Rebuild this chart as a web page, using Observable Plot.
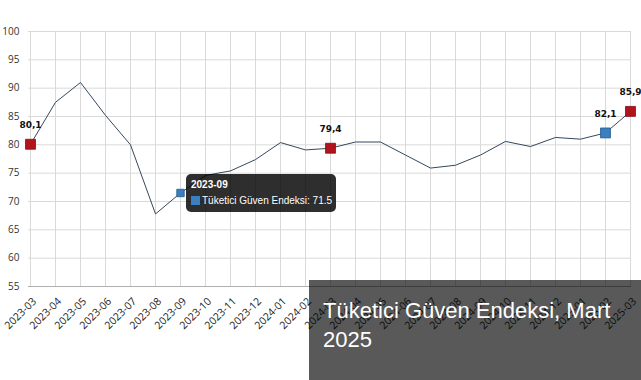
<!DOCTYPE html>
<html>
<head>
<meta charset="utf-8">
<script src="https://cdn.jsdelivr.net/npm/d3@7"></script>
<script src="https://cdn.jsdelivr.net/npm/@observablehq/plot@0.6"></script>
<style>
  html, body { margin: 0; padding: 0; background: #fff; }
  #wrap { position: relative; width: 641px; height: 380px; overflow: hidden; }
  #wrap svg { position: absolute; left: 0; top: 0; }
  .tip { position: absolute; background: rgba(0,0,0,0.82); border-radius: 5px; color: #fff;
         font-family: "Liberation Sans", Arial, sans-serif; font-size: 10px; padding: 5px 4px 6px 5px; white-space: nowrap; }
  .tip .h { font-weight: bold; margin-bottom: 5px; }
  .tip .sw { display: inline-block; width: 9px; height: 9px; margin-right: 2px; vertical-align: -1px; }
  .title { position: absolute; left: 309px; top: 280px; width: 332px; height: 100px; box-sizing: border-box;
           background: rgba(0,0,0,0.65); color: #fff; font-family: "Liberation Sans", Arial, sans-serif;
           font-size: 22px; line-height: 29px; padding: 16px 10px 0 14px; }
</style>
</head>
<body>
<div id="wrap"></div>
<script>
const months = ["2023-03","2023-04","2023-05","2023-06","2023-07","2023-08","2023-09","2023-10","2023-11","2023-12",
  "2024-01","2024-02","2024-03","2024-04","2024-05","2024-06","2024-07","2024-08","2024-09","2024-10","2024-11","2024-12",
  "2025-01","2025-02","2025-03"];
const values = [80.1, 87.5, 91.0, 85.2, 80.0, 67.8, 71.5, 74.6, 75.4, 77.4,
  80.4, 79.1, 79.4, 80.5, 80.5, 78.2, 75.9, 76.4, 78.2, 80.6, 79.7, 81.3,
  81.0, 82.1, 85.9];
const yTicks = [55, 60, 65, 70, 75, 80, 85, 90, 95, 100];
const redMonths = ["2023-03", "2024-03", "2025-03"];
const blueMonths = ["2025-02"];
const labelMonths = ["2023-03", "2024-03", "2025-02", "2025-03"];
const hoverMonth = "2023-09";
const seriesName = "Tüketici Güven Endeksi";
const titleText = "Tüketici Güven Endeksi, Mart 2025";

const data = months.map((m, i) => ({month: m, value: values[i]}));
const pick = list => data.filter(d => list.includes(d.month));
const comma = v => v.toFixed(1).replace(".", ",");

const RED = "#b3141c", BLUE = "#3a7fc0";

const chart = Plot.plot({
  width: 641,
  height: 380,
  marginLeft: 28,
  marginRight: 10,
  marginTop: 31,
  marginBottom: 94,
  style: {fontFamily: "'Open Sans', sans-serif", fontSize: "10px", color: "#333", background: "#fff"},
  x: {type: "point", domain: months, padding: 0},
  y: {domain: [55, 100]},
  marks: [
    Plot.gridX(months, {stroke: "#d9d9d9", strokeOpacity: 1}),
    Plot.gridY(yTicks, {stroke: "#d9d9d9", strokeOpacity: 1}),
    Plot.ruleY([55], {stroke: "#b0b0b0"}),
    Plot.axisY(yTicks, {tickSize: 0, tickPadding: 9, label: null, fill: "#333"}),
    Plot.axisX(months, {tickSize: 0, tickPadding: 4, tickRotate: -45, dx: 4, dy: 9, label: null, fill: "#222", fontSize: 10.5}),
    Plot.line(data, {x: "month", y: "value", stroke: "#34495e", strokeWidth: 1}),
    Plot.dot(pick(redMonths), {x: "month", y: "value", symbol: "square", r: 5.6, fill: RED, stroke: "#7d0d12", strokeWidth: 0.8}),
    Plot.dot(pick(blueMonths), {x: "month", y: "value", symbol: "square", r: 5.6, fill: BLUE, stroke: "#24598c", strokeWidth: 0.8}),
    Plot.dot(pick([hoverMonth]), {x: "month", y: "value", symbol: "square", r: 4.2, fill: BLUE, stroke: "#24598c", strokeWidth: 0.8}),
    Plot.text(pick(labelMonths), {x: "month", y: "value", text: d => comma(d.value), dy: -19,
      fontWeight: "bold", fontSize: 9, fill: "#111", fontFamily: "'DejaVu Sans', sans-serif"})
  ]
});

const wrap = document.getElementById("wrap");
wrap.appendChild(chart);

// tooltip anchored through the chart's scales
const hv = data.find(d => d.month === hoverMonth);
const px = chart.scale("x").apply(hv.month);
const py = chart.scale("y").apply(hv.value);
const tip = document.createElement("div");
tip.className = "tip";
tip.style.left = (px + 6) + "px";
tip.style.top = (py - 19) + "px";
tip.innerHTML = `<div class="h">${hv.month}</div><div><span class="sw" style="background:${BLUE}"></span>${seriesName}: ${hv.value}</div>`;
wrap.appendChild(tip);

const title = document.createElement("div");
title.className = "title";
title.textContent = titleText;
wrap.appendChild(title);
</script>
</body>
</html>
